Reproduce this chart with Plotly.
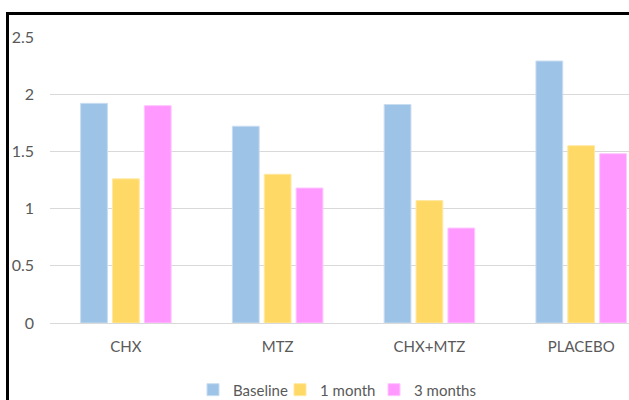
import plotly.graph_objects as go

categories = ["CHX", "MTZ", "CHX+MTZ", "PLACEBO"]
baseline = [1.92, 1.72, 1.91, 2.29]
month1 = [1.26, 1.30, 1.07, 1.55]
month3 = [1.90, 1.18, 0.83, 1.48]
series_names = ["Baseline", "1 month", "3 months"]
colors = ["#9DC3E6", "#FFD966", "#FF99FF"]
line_colors = ["#C9DDF1", "#FFE8A3", "#FFC6FF"]

W, H = 629, 400
L, R, T, B = 50, 0, 37, 77
pw = W - L - R
ph = H - T - B

legend_ids = ["legend", "legend2", "legend3"]
legend_left_px = [193, 280, 374]

fig = go.Figure()
for name, vals, c, lc, lg in zip(series_names, [baseline, month1, month3], colors, line_colors, legend_ids):
    fig.add_trace(go.Bar(x=categories, y=vals, name=name, legend=lg,
                         marker=dict(color=c, line=dict(color=lc, width=1))))

font_col = "#595959"
fig.update_layout(
    width=W, height=H,
    margin=dict(l=L, r=R, t=T, b=B, pad=0, autoexpand=False),
    paper_bgcolor="white", plot_bgcolor="white",
    barmode="group", bargap=0.37, bargroupgap=0.16,
    font=dict(family="Lato", size=14, color=font_col),
    xaxis=dict(range=[-0.5, 3.315], showgrid=False, showline=False,
               ticks="", ticklabelstandoff=13, automargin=False,
               tickfont=dict(size=15, color=font_col)),
    yaxis=dict(range=[0, 2.5], dtick=0.5, showgrid=True, gridcolor="#D9D9D9",
               gridwidth=1, zeroline=True, zerolinecolor="#D9D9D9", zerolinewidth=1,
               showline=False, ticks="", ticklabelstandoff=15, automargin=False,
               tickfont=dict(size=16, color=font_col)),
    showlegend=True,
)
for lg, lx in zip(legend_ids, legend_left_px):
    fig.update_layout({lg: dict(orientation="h", x=(lx - L) / pw, xanchor="left",
                                y=-0.234, yanchor="middle", itemwidth=30,
                                font=dict(size=15, color=font_col),
                                bgcolor="rgba(0,0,0,0)")})

# black frame (top and left), partially cropped in reference
def px_x(x):
    return (x - L) / pw
def px_y(y):
    return (H - B - y) / ph

fig.add_shape(type="line", xref="paper", yref="paper",
              x0=px_x(6), x1=px_x(640), y0=px_y(13.5), y1=px_y(13.5),
              line=dict(color="black", width=3))
fig.add_shape(type="line", xref="paper", yref="paper",
              x0=px_x(7.5), x1=px_x(7.5), y0=px_y(12), y1=px_y(410),
              line=dict(color="black", width=3))

fig.write_html("out.html")
